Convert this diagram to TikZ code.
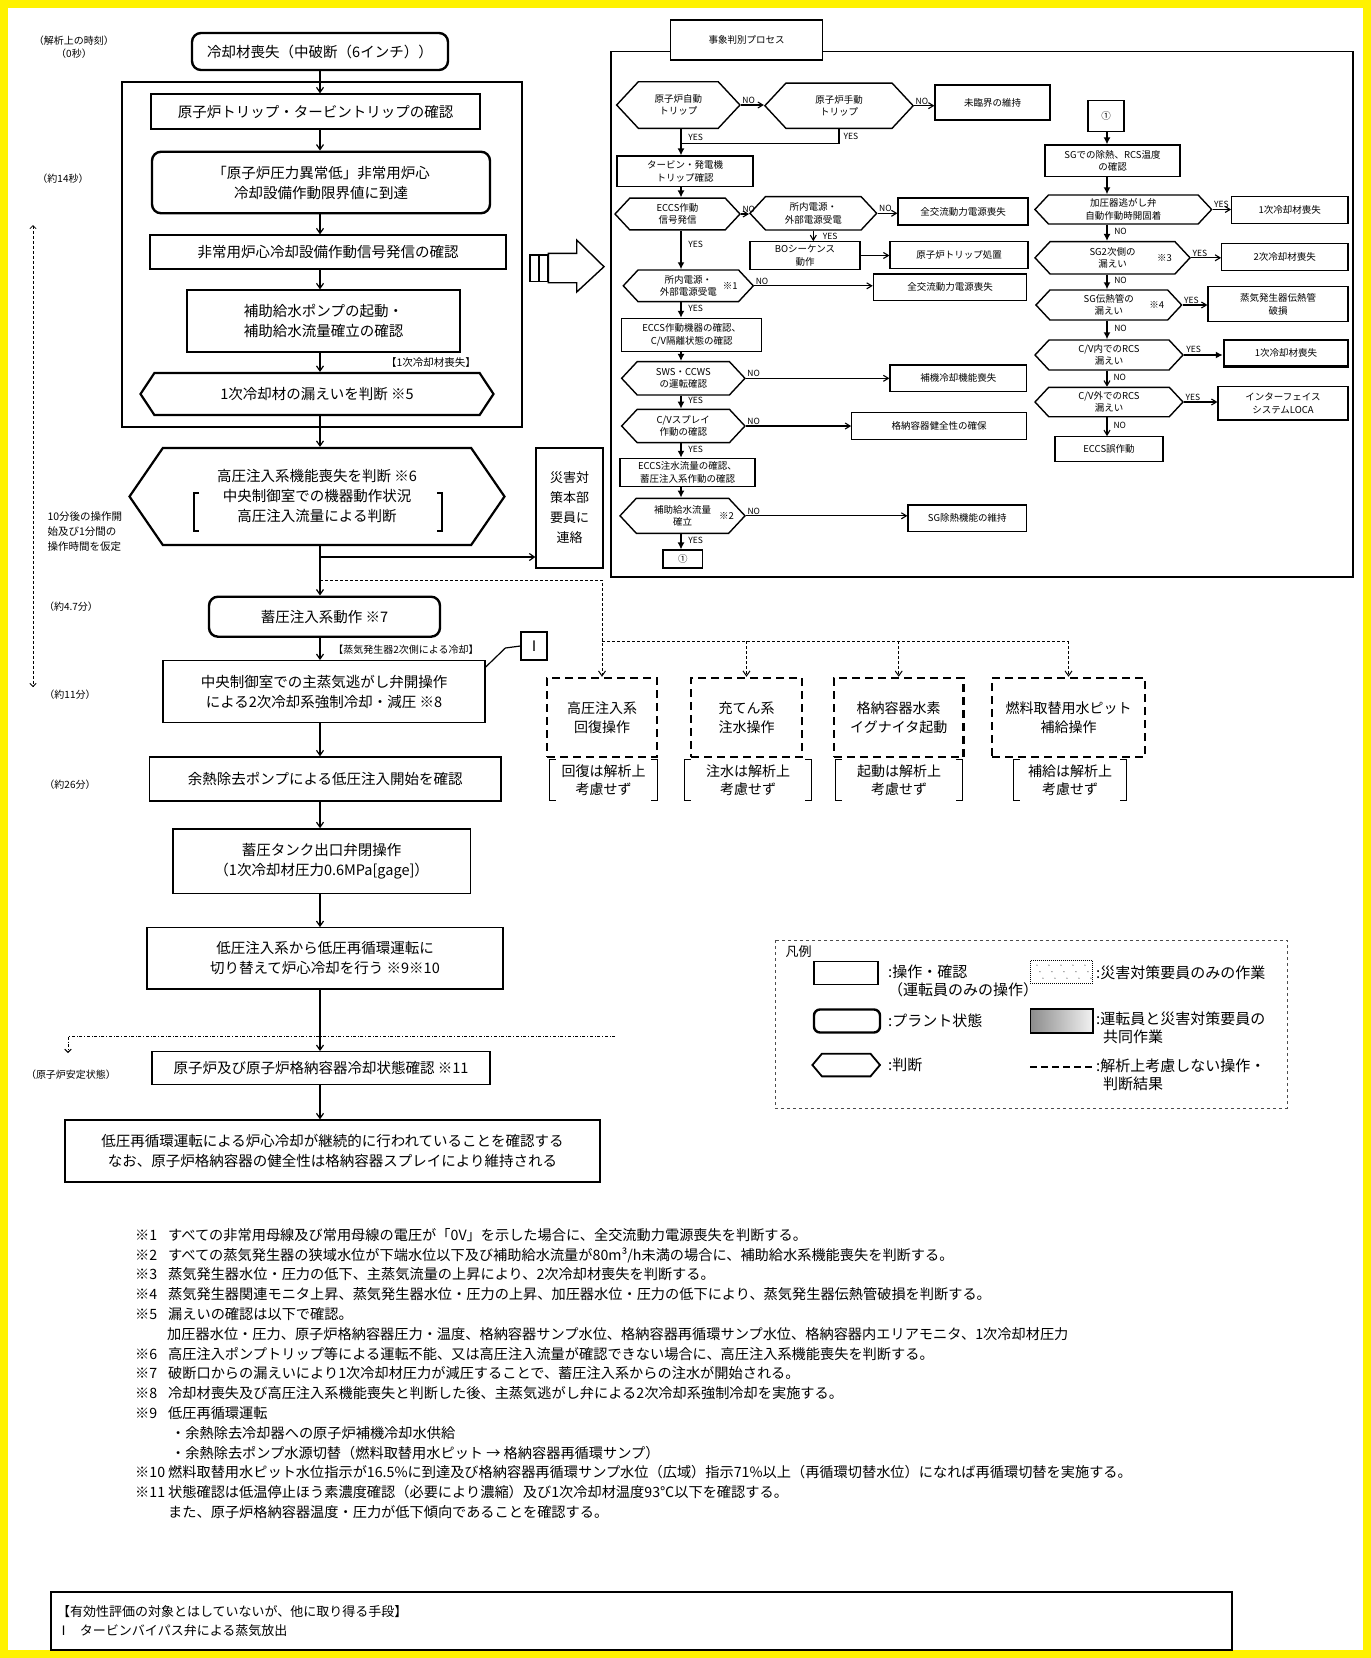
\documentclass[tikz,border=0pt]{standalone}
\usepackage{fontspec}
\setmainfont{Noto Sans CJK JP}
\usetikzlibrary{arrows.meta,shapes.symbols}

\newcommand\mainsz{\fontsize{14.5}{20}\selectfont}
\newcommand\psz{\fontsize{9.5}{12.5}\selectfont}
\newcommand\ynsz{\fontsize{8.5}{9}\selectfont}
\newcommand\timesz{\fontsize{10}{13}\selectfont}
\newcommand\legsz{\fontsize{15}{18}\selectfont}
\newcommand\notesz{\fontsize{14.2}{19.8}\selectfont}

\tikzset{
  opbox/.style={draw, line width=1.3pt, inner sep=0pt, align=center, font=\mainsz},
  statebox/.style={opbox, line width=2.4pt, rounded corners=9pt},
  judge/.style={opbox, line width=2.2pt, shape=signal, signal to=west and east, signal pointer angle=112},
  skipbox/.style={opbox, line width=2.5pt, dash pattern=on 8pt off 5pt, font=\fontsize{14}{19}\selectfont},
  remnote/.style={inner sep=0pt, align=center, minimum height=40pt, font=\fontsize{14}{18}\selectfont},
  flow/.style={-{Straight Barb[length=5pt,width=7pt]}, line width=1.2pt},
  pbox/.style={draw, line width=1.1pt, inner sep=0pt, align=center, font=\psz},
  phex/.style={pbox, line width=1.4pt, shape=signal, signal to=west and east, signal pointer angle=94},
  pmain/.style={-{Latex[length=7pt,width=7pt]}, line width=2.6pt},
  pside/.style={-{Straight Barb[length=5pt,width=6pt]}, line width=1.1pt},
  yn/.style={font=\ynsz, inner sep=1pt},
}

\begin{document}
\begin{tikzpicture}[x=1pt, y=-1pt]
\useasboundingbox (0,0) rectangle (1371,1658);
\draw[yellow, line width=8pt] (4,4) rectangle (1367,1654);

% time axis
\node[font=\timesz, align=center] (t0) at (74,47) {（解析上の時刻）\\（0秒）};
\node[font=\timesz] (t1) at (63,179) {（約14秒）};
\node[font=\timesz] (t2) at (71,607) {（約4.7分）};
\node[font=\timesz] (t3) at (70,695) {（約11分）};
\node[font=\timesz] (t4) at (70,785) {（約26分）};
\node[font=\timesz] (t5) at (71,1075) {（原子炉安定状態）};
\node[font=\fontsize{10.5}{15}\selectfont, align=left, anchor=west] (tnote) at (44,532) {10分後の操作開\\始及び1分間の\\操作時間を仮定};
\coordinate (ttop) at (33,225);
\coordinate (tbot) at (33,687);
\draw[{Straight Barb}-{Straight Barb}, densely dashed, line width=0.8pt] (ttop) -- (tbot);

% main flow
\coordinate (spine) at (320,0);
\draw[line width=1.1pt] (122,82) rectangle (522,427);
\node[statebox, minimum width=256pt, minimum height=37pt] (loca) at (320,51.5) {冷却材喪失（中破断（6インチ））};
\node[opbox, minimum width=329pt, minimum height=35pt] (trip) at (315.5,111.5) {原子炉トリップ・タービントリップの確認};
\node[statebox, minimum width=338pt, minimum height=61.5pt] (lowp) at (321,182.5) {「原子炉圧力異常低」非常用炉心\\冷却設備作動限界値に到達};
\node[opbox, minimum width=356pt, minimum height=34pt] (eccs) at (328,252) {非常用炉心冷却設備作動信号発信の確認};
\node[opbox, minimum width=273pt, minimum height=62pt] (afw) at (323.5,321) {補助給水ポンプの起動・\\補助給水流量確立の確認};
\node[font=\fontsize{10.5}{12}\selectfont] (tag1) at (431,363) {【1次冷却材喪失】};
\node[judge, minimum width=353pt, minimum height=42pt, signal pointer angle=113] (leak) at (317,394) {1次冷却材の漏えいを判断 ※5};
\node[judge, minimum width=375pt, minimum height=97pt, signal pointer angle=111] (hpi) at (317,496.5) {高圧注入系機能喪失を判断 ※6\\中央制御室での機器動作状況\\高圧注入流量による判断};
\draw[line width=1.2pt] ([xshift=-118pt,yshift=3.5pt]hpi.center) -- ++(-5,0) -- ++(0,38) -- ++(5,0);
\draw[line width=1.2pt] ([xshift=120pt,yshift=3.5pt]hpi.center) -- ++(5,0) -- ++(0,38) -- ++(-5,0);
\node[opbox, minimum width=67pt, minimum height=120pt, font=\fontsize{13}{20}\selectfont] (hq) at (569.5,508) {災害対\\策本部\\要員に\\連絡};
\node[statebox, minimum width=231pt, minimum height=40pt] (acc) at (324.5,616.7) {蓄圧注入系動作 ※7};
\node[font=\fontsize{10}{12}\selectfont] (tag2) at (406,650) {【蒸気発生器2次側による冷却】};
\node[opbox, minimum width=26pt, minimum height=28pt] (alt) at (534,646) {Ⅰ};
\node[opbox, minimum width=322pt, minimum height=62pt] (msr) at (324,691.7) {中央制御室での主蒸気逃がし弁開操作\\による2次冷却系強制冷却・減圧 ※8};
\node[opbox, minimum width=351.5pt, minimum height=44pt] (rhr) at (325.3,779) {余熱除去ポンプによる低圧注入開始を確認};
\node[opbox, minimum width=297.7pt, minimum height=64.3pt] (acv) at (321.7,861) {蓄圧タンク出口弁閉操作\\（1次冷却材圧力0.6MPa[gage]）};
\node[opbox, minimum width=356pt, minimum height=61.3pt] (recirc) at (325,958.4) {低圧注入系から低圧再循環運転に\\切り替えて炉心冷却を行う ※9※10};
\node[opbox, minimum width=338pt, minimum height=32.6pt] (stable) at (321,1068) {原子炉及び原子炉格納容器冷却状態確認 ※11};
\node[opbox, minimum width=535pt, minimum height=62pt] (final) at (332.5,1151) {低圧再循環運転による炉心冷却が継続的に行われていることを確認する\\なお、原子炉格納容器の健全性は格納容器スプレイにより維持される};

\foreach \a/\b in {loca/trip, trip/lowp, lowp/eccs, eccs/afw, afw/leak, leak/hpi, hpi/acc, acc/msr, msr/rhr, rhr/acv, acv/recirc, recirc/stable, stable/final}
  \draw[flow] (\a.south -| spine) -- (\b.north -| spine);

\draw[line width=1.2pt] (alt.west) -- ++(-15,2) -- ([yshift=-7pt]msr.north east);

% operations not considered
\node[skipbox, minimum width=110pt, minimum height=79pt] (skip1) at (602,717.5) {高圧注入系\\回復操作};
\node[skipbox, minimum width=111pt, minimum height=79pt] (skip2) at (746.5,717.5) {充てん系\\注水操作};
\node[skipbox, minimum width=129.5pt, minimum height=79pt] (skip3) at (898.7,717.5) {格納容器水素\\イグナイタ起動};
\node[skipbox, minimum width=153pt, minimum height=79pt] (skip4) at (1068.5,717.5) {燃料取替用水ピット\\補給操作};
\node[remnote, minimum width=107pt] (rem1) at (603.5,780) {回復は解析上\\考慮せず};
\node[remnote, minimum width=126pt] (rem2) at (748,780) {注水は解析上\\考慮せず};
\node[remnote, minimum width=126pt] (rem3) at (899,780) {起動は解析上\\考慮せず};
\node[remnote, minimum width=112pt] (rem4) at (1070,780) {補給は解析上\\考慮せず};
\foreach \r in {rem1,rem2,rem3,rem4}{
  \draw[line width=1.2pt] ([xshift=6pt]\r.north west) -- (\r.north west) -- (\r.south west) -- ([xshift=6pt]\r.south west);
  \draw[line width=1.2pt] ([xshift=-6pt]\r.north east) -- (\r.north east) -- (\r.south east) -- ([xshift=-6pt]\r.south east);
}

\coordinate (br1) at (320,557);
\coordinate (br2) at (320,580);
\coordinate (br3) at (skip1.north |- 0,641);
\draw[flow] (br1) -- (br1 -| hq.west);
\draw[flow, densely dashed, line width=1pt] (br2) -| (skip1.north);
\draw[densely dashed, line width=1pt] (br3) -- (br3 -| skip4.north);
\foreach \s in {skip2, skip3, skip4}
  \draw[flow, densely dashed, line width=1pt] (br3 -| \s.north) -- (\s.north);

\coordinate (ss1) at (615,1036);
\coordinate (ss2) at (68,1053);
\draw[-{Straight Barb}, dash dot, line width=0.9pt] (ss1) -| (ss2);

% transfer arrow
\draw[line width=1.4pt] (530,255) rectangle (538.3,281.7);
\draw[line width=1.4pt] (539.3,255) rectangle (547.3,281.7);
\draw[line width=1.4pt] (548.3,253.3) -- (576.7,253.3) -- (576.7,240) -- (604,266.7) -- (576.7,292) -- (576.7,282.7) -- (548.3,282.7) -- cycle;

% event identification process
\node[pbox, minimum width=152pt, minimum height=40pt] (ptitle) at (746.7,40) {事象判別プロセス};
\draw[line width=1.1pt] (ptitle.west |- 0,51.7) -- (611,51.7) -- (611,577) -- (1353,577) -- (1353,51.7) -- (ptitle.east |- 0,51.7);
\coordinate (pcol) at (681,0);
\coordinate (qcol) at (1107,0);

\node[phex, minimum width=123.3pt, minimum height=46.6pt] (ptrA) at (678.3,105) {原子炉自動\\トリップ};
\node[phex, minimum width=148.3pt, minimum height=45.3pt] (ptrM) at (839,105.7) {原子炉手動\\トリップ};
\node[pbox, minimum width=115pt, minimum height=35pt] (psub) at (992.5,102.5) {未臨界の維持};
\node[pbox, minimum width=136pt, minimum height=30.7pt] (ptg) at (685,171.3) {タービン・発電機\\トリップ確認};
\node[phex, minimum width=125pt, minimum height=31.7pt] (peccs) at (677.5,214) {ECCS作動\\信号発信};
\node[phex, minimum width=126.7pt, minimum height=33.3pt] (ppow1) at (813.3,213.3) {所内電源・\\外部電源受電};
\node[pbox, minimum width=130pt, minimum height=27pt] (psbo1) at (963,211.5) {全交流動力電源喪失};
\node[pbox, minimum width=110pt, minimum height=27.6pt] (pbo) at (805,255.5) {BOシーケンス\\動作};
\node[pbox, minimum width=138pt, minimum height=26.6pt] (prt) at (959,255) {原子炉トリップ処置};
\node[phex, minimum width=130pt, minimum height=31.7pt] (ppow2) at (688.3,285.8) {所内電源・\\外部電源受電};
\node[font=\psz] (m1) at ([xshift=42pt]ppow2.center) {※1};
\node[pbox, minimum width=153.4pt, minimum height=26.7pt] (psbo2) at (950,287.3) {全交流動力電源喪失};
\node[pbox, minimum width=140pt, minimum height=32.7pt] (pcv) at (691.7,334.7) {ECCS作動機器の確認、\\C/V隔離状態の確認};
\node[phex, minimum width=123.3pt, minimum height=33.3pt] (pccw) at (683.3,378.3) {SWS・CCWS\\の運転確認};
\node[pbox, minimum width=136.7pt, minimum height=26.7pt] (plccw) at (958.3,378.3) {補機冷却機能喪失};
\node[phex, minimum width=123.3pt, minimum height=33.3pt] (pspray) at (683.3,426) {C/Vスプレイ\\作動の確認};
\node[pbox, minimum width=175pt, minimum height=26.6pt] (pcvint) at (939.2,426) {格納容器健全性の確保};
\node[pbox, minimum width=135pt, minimum height=28.4pt] (pinj) at (687.5,472.5) {ECCS注水流量の確認、\\蓄圧注入系作動の確認};
\node[phex, minimum width=125pt, minimum height=35pt] (pafw) at (682.5,515.8) {補助給水流量\\確立};
\node[font=\psz] (m2) at ([xshift=44pt]pafw.center) {※2};
\node[pbox, minimum width=118.7pt, minimum height=26.7pt] (psg) at (967.3,518.3) {SG除熱機能の維持};
\node[pbox, minimum width=39.7pt, minimum height=18pt] (pjoin) at (682.8,559) {①};

\node[pbox, minimum width=36pt, minimum height=31pt] (qjoin) at (1106,116.2) {①};
\node[pbox, minimum width=135pt, minimum height=31.7pt] (qsg) at (1112.5,160.8) {SGでの除熱、RCS温度\\の確認};
\node[phex, minimum width=176.7pt, minimum height=29pt] (qprz) at (1123.3,209.5) {加圧器逃がし弁\\自動作動時開固着};
\node[pbox, minimum width=116.3pt, minimum height=26.6pt] (qloca1) at (1289.8,210) {1次冷却材喪失};
\node[phex, minimum width=155pt, minimum height=32.3pt] (qsg2) at (1112.5,257.8) {SG2次側の\\漏えい};
\node[font=\psz] (m3) at ([xshift=52pt]qsg2.center) {※3};
\node[pbox, minimum width=126.3pt, minimum height=26.7pt] (qloss2) at (1284.8,256.7) {2次冷却材喪失};
\node[phex, minimum width=145.7pt, minimum height=30pt] (qsgtr) at (1108.8,305) {SG伝熱管の\\漏えい};
\node[font=\psz] (m4) at ([xshift=48pt]qsgtr.center) {※4};
\node[pbox, minimum width=140pt, minimum height=35pt] (qsgtrb) at (1278,304.2) {蒸気発生器伝熱管\\破損};
\node[phex, minimum width=148pt, minimum height=30pt] (qcvin) at (1109,355) {C/V内でのRCS\\漏えい};
\node[pbox, line width=2.4pt, minimum width=124pt, minimum height=26.7pt] (qloca2) at (1286,353.3) {1次冷却材喪失};
\node[phex, minimum width=148pt, minimum height=29.4pt] (qcvout) at (1109,402) {C/V外でのRCS\\漏えい};
\node[pbox, minimum width=130pt, minimum height=33.3pt] (qislo) at (1283,403.3) {インターフェイス\\システムLOCA};
\node[pbox, minimum width=108pt, minimum height=25pt] (qmis) at (1109,449.2) {ECCS誤作動};

% process connectors
\coordinate (pj) at (681,143.3);
\draw[pside] (ptrA.east) -- node[yn, anchor=south west, pos=0] {NO} (ptrA.east -| ptrM.west);
\draw[pside] (ptrM.east) -- node[yn, anchor=south west, pos=0] {NO} (ptrM.east -| psub.west);
\draw[pmain] (ptrA.south -| pcol) -- node[yn, anchor=west, pos=0.3, xshift=5pt] {YES} (ptg.north -| pcol);
\draw[line width=1.1pt] (ptrM.south) |- node[yn, anchor=west, pos=0.25, xshift=3pt] {YES} (pj);
\draw[pmain] (ptg.south -| pcol) -- (peccs.north -| pcol);
\draw[pside] (peccs.east) -- node[yn, anchor=south west, pos=0] {NO} (peccs.east -| ppow1.west);
\draw[pside] (ppow1.east) -- node[yn, anchor=south west, pos=0] {NO} (ppow1.east -| psbo1.west);
\draw[pside] (ppow1.south) -- node[yn, anchor=west, xshift=8pt] {YES} (ppow1.south |- pbo.north);
\draw[pside] (pbo.east) -- (pbo.east -| prt.west);
\draw[pmain] (peccs.south -| pcol) -- node[yn, anchor=west, pos=0.35, xshift=5pt] {YES} (ppow2.north -| pcol);
\draw[pside] (ppow2.east) -- node[yn, anchor=south west, pos=0] {NO} (ppow2.east -| psbo2.west);
\draw[pmain] (ppow2.south -| pcol) -- node[yn, anchor=west, pos=0.4, xshift=5pt] {YES} (pcv.north -| pcol);
\draw[pmain] (pcv.south -| pcol) -- (pccw.north -| pcol);
\draw[pside] (pccw.east) -- node[yn, anchor=south west, pos=0] {NO} (pccw.east -| plccw.west);
\draw[pmain] (pccw.south -| pcol) -- node[yn, anchor=west, pos=0.4, xshift=5pt] {YES} (pspray.north -| pcol);
\draw[pside] (pspray.east) -- node[yn, anchor=south west, pos=0] {NO} (pspray.east -| pcvint.west);
\draw[pmain] (pspray.south -| pcol) -- node[yn, anchor=west, pos=0.4, xshift=5pt] {YES} (pinj.north -| pcol);
\draw[pmain] (pinj.south -| pcol) -- (pafw.north -| pcol);
\draw[pside] (pafw.east) -- node[yn, anchor=south west, pos=0] {NO} (pafw.east -| psg.west);
\draw[pmain] (pafw.south -| pcol) -- node[yn, anchor=west, pos=0.4, xshift=5pt] {YES} (pjoin.north -| pcol);

\draw[pmain] (qjoin.south -| qcol) -- (qsg.north -| qcol);
\draw[pmain] (qsg.south -| qcol) -- (qprz.north -| qcol);
\draw[pside] (qprz.east) -- node[yn, anchor=south west, pos=0] {YES} (qprz.east -| qloca1.west);
\draw[pmain] (qprz.south -| qcol) -- node[yn, anchor=west, pos=0.4, xshift=5pt] {NO} (qsg2.north -| qcol);
\draw[pside] (qsg2.east) -- node[yn, anchor=south west, pos=0] {YES} (qsg2.east -| qloss2.west);
\draw[pmain] (qsg2.south -| qcol) -- node[yn, anchor=west, pos=0.4, xshift=5pt] {NO} (qsgtr.north -| qcol);
\draw[pside] (qsgtr.east) -- node[yn, anchor=south west, pos=0] {YES} (qsgtr.east -| qsgtrb.west);
\draw[pmain] (qsgtr.south -| qcol) -- node[yn, anchor=west, pos=0.4, xshift=5pt] {NO} (qcvin.north -| qcol);
\draw[pmain] (qcvin.east) -- node[yn, anchor=south west, pos=0] {YES} (qcvin.east -| qloca2.west);
\draw[pside] (qcvin.south -| qcol) -- node[yn, anchor=west, pos=0.4, xshift=5pt] {NO} (qcvout.north -| qcol);
\draw[pside] (qcvout.east) -- node[yn, anchor=south west, pos=0] {YES} (qcvout.east -| qislo.west);
\draw[pside] (qcvout.south -| qcol) -- node[yn, anchor=west, pos=0.4, xshift=5pt] {NO} (qmis.north -| qcol);

% legend
\draw[dashed, line width=1pt, black!70] (775,940) rectangle (1287,1108);
\node[font=\fontsize{13}{15}\selectfont, anchor=west] (lgtitle) at (782,952) {凡例};
\node[opbox, minimum width=64pt, minimum height=23pt] (lg1) at (846,973) {};
\node[statebox, rounded corners=6pt, minimum width=66pt, minimum height=23pt] (lg2) at (847,1021) {};
\node[judge, line width=1.8pt, minimum width=67.6pt, minimum height=22.7pt, signal pointer angle=100] (lg3) at (846.2,1065) {};
\node[draw, densely dotted, line width=1pt, minimum width=62.5pt, minimum height=22.6pt] (lg4) at (1061.7,972) {};
\foreach \i in {0,...,4}
  \foreach \j in {0,1,2}
    \fill[black!60] ([xshift={7pt+12*\i pt+3*\j pt}, yshift={-5pt-6.5*\j pt}]lg4.north west) circle (0.7pt);
\node[draw, line width=1.4pt, minimum width=62.5pt, minimum height=24pt, left color=black!45, right color=black!5] (lg5) at (1061.7,1021) {};
\coordinate (lgd1) at (1030,1067);
\coordinate (lgd2) at (1093,1067);
\draw[line width=2pt, dash pattern=on 7pt off 4pt] (lgd1) -- (lgd2);
\node[font=\legsz, align=left, anchor=north west, inner sep=0pt] (lgt1) at (888,965) {:操作・確認\\（運転員のみの操作）};
\node[font=\legsz, anchor=west, inner sep=0pt] (lgt2) at (888,1021) {:プラント状態};
\node[font=\legsz, anchor=west, inner sep=0pt] (lgt3) at (888,1065) {:判断};
\node[font=\legsz, anchor=west, inner sep=0pt] (lgt4) at (1096,973) {:災害対策要員のみの作業};
\node[font=\legsz, align=left, anchor=north west, inner sep=0pt] (lgt5) at (1096,1012) {:運転員と災害対策要員の\\\hspace*{7pt}共同作業};
\node[font=\legsz, align=left, anchor=north west, inner sep=0pt] (lgt6) at (1096,1059) {:解析上考慮しない操作・\\\hspace*{7pt}判断結果};

% notes
\node[anchor=north west, align=left, font=\notesz, inner sep=0pt] (notes) at (135,1228) {%
\makebox[33pt][l]{※1}すべての非常用母線及び常用母線の電圧が「0V」を示した場合に、全交流動力電源喪失を判断する。\\
\makebox[33pt][l]{※2}すべての蒸気発生器の狭域水位が下端水位以下及び補助給水流量が80m³/h未満の場合に、補助給水系機能喪失を判断する。\\
\makebox[33pt][l]{※3}蒸気発生器水位・圧力の低下、主蒸気流量の上昇により、2次冷却材喪失を判断する。\\
\makebox[33pt][l]{※4}蒸気発生器関連モニタ上昇、蒸気発生器水位・圧力の上昇、加圧器水位・圧力の低下により、蒸気発生器伝熱管破損を判断する。\\
\makebox[33pt][l]{※5}漏えいの確認は以下で確認。\\
\makebox[32pt][l]{}加圧器水位・圧力、原子炉格納容器圧力・温度、格納容器サンプ水位、格納容器再循環サンプ水位、格納容器内エリアモニタ、1次冷却材圧力\\
\makebox[33pt][l]{※6}高圧注入ポンプトリップ等による運転不能、又は高圧注入流量が確認できない場合に、高圧注入系機能喪失を判断する。\\
\makebox[33pt][l]{※7}破断口からの漏えいにより1次冷却材圧力が減圧することで、蓄圧注入系からの注水が開始される。\\
\makebox[33pt][l]{※8}冷却材喪失及び高圧注入系機能喪失と判断した後、主蒸気逃がし弁による2次冷却系強制冷却を実施する。\\
\makebox[33pt][l]{※9}低圧再循環運転\\
\makebox[36pt][l]{}・余熱除去冷却器への原子炉補機冷却水供給\\
\makebox[36pt][l]{}・余熱除去ポンプ水源切替（燃料取替用水ピット → 格納容器再循環サンプ）\\
\makebox[33pt][l]{※10}燃料取替用水ピット水位指示が16.5\%に到達及び格納容器再循環サンプ水位（広域）指示71\%以上（再循環切替水位）になれば再循環切替を実施する。\\
\makebox[33pt][l]{※11}状態確認は低温停止ほう素濃度確認（必要により濃縮）及び1次冷却材温度93℃以下を確認する。\\
\makebox[33pt][l]{}また、原子炉格納容器温度・圧力が低下傾向であることを確認する。};

% other means
\node[draw, line width=1.4pt, minimum width=1181pt, minimum height=58pt, inner sep=6pt, text width=1169pt, align=left, font=\fontsize{13}{19}\selectfont] (othr) at (641.5,1621) {【有効性評価の対象とはしていないが、他に取り得る手段】\\Ⅰ\hspace{10pt}タービンバイパス弁による蒸気放出};
\end{tikzpicture}
\end{document}
